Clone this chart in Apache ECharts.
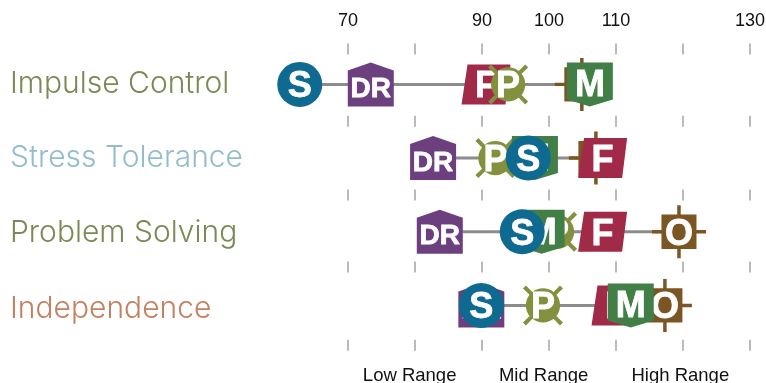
<!DOCTYPE html>
<html>
<head>
<meta charset="utf-8">
<style>html,body{margin:0;padding:0;background:#fff}#chart{width:766px;height:383px}</style>
<script src="https://cdn.jsdelivr.net/npm/echarts@6/dist/echarts.min.js"></script>
</head>
<body>
<div id="chart"></div>
<script>
// rows, top to bottom
var rowNames = ['Impulse Control', 'Stress Tolerance', 'Problem Solving', 'Independence'];
var rowColors = ['#7b8a55', '#93bdcc', '#7b8a55', '#c4815f'];
var rowLabelPos = [0, 1, 2.01, 3.05];

// score of each rater per row
var oValues = [104.9, 107.0, 119.4, 117.3];
var drValues = [73.4, 82.7, 83.7, 89.9];
var fValues = [90.6, 108.0, 108.0, 110.0];
var pValues = [93.9, 92.0, 101.2, 99.1];
var mValues = [106.1, 97.9, 98.9, 112.2];
var sValues = [62.8, 96.9, 96.0, 89.9];

var tickValues = [70, 80, 90, 100, 110, 120, 130];
var topLabels = [70, 90, 100, 110, 130];
var tickRows = [-0.48, 0.5, 1.5, 2.48, 3.54];
var rangeNames = ['Low Range', 'Mid Range', 'High Range'];
var rangeCenters = [79.2, 99.2, 119.6];

var chart = echarts.init(document.getElementById('chart'));

var housePath = 'path://M0 8L23 0L46 8L46 44L0 44Z';
var shieldPath = 'path://M0 0L46 0L46 37L23 44L0 37Z';
var slantPath = 'path://M6 0L49 0L44 40L0 40Z';
var crossPath = 'path://M25.250 0h3.500v9.500h15.750v15.750h9.500v3.500h-9.500v15.750h-15.750v9.500h-3.500v-9.500h-15.750v-15.750h-9.500v-3.500h9.500v-15.750h15.750Z';
var burstPath = 'path://M3 0L9.400 6.600A17 17 0 0 1 30.600 6.600L37 0L40 3L33.400 9.400A17 17 0 0 1 33.400 30.600L40 37L37 40L30.600 33.400A17 17 0 0 1 9.400 33.400L3 40L0 37L6.600 30.600A17 17 0 0 1 6.600 9.400L0 3Z';

function toPoints(values) {
    return values.map(function (v, i) { return [v, i]; });
}

function rater(name, values, symbol, size, color, z, fontSize, dy) {
    return {
        type: 'scatter',
        name: name,
        z: z,
        symbol: symbol,
        symbolSize: size,
        itemStyle: { color: color, opacity: 1 },
        label: {
            show: true,
            position: 'inside',
            offset: [0, dy],
            formatter: name,
            color: '#fff',
            textBorderColor: '#fff',
            textBorderWidth: 0.8,
            fontFamily: 'Liberation Sans',
            fontWeight: 'bold',
            fontSize: fontSize
        },
        data: toPoints(values)
    };
}

var series = [];

// gray line across each row, lowest to highest score
rowNames.forEach(function (name, i) {
    var vals = [oValues[i], drValues[i], fValues[i], pValues[i], mValues[i], sValues[i]];
    series.push({
        type: 'line',
        z: 2,
        symbol: 'none',
        silent: true,
        lineStyle: { color: '#8c8c8c', width: 3 },
        data: [[Math.min.apply(null, vals), i], [Math.max.apply(null, vals), i]]
    });
});

// short ticks between the rows
var tickData = [];
tickRows.forEach(function (r) {
    tickValues.forEach(function (t) { tickData.push([t, r]); });
});
series.push({
    type: 'scatter',
    z: 1,
    symbol: 'rect',
    symbolSize: [1, 11],
    itemStyle: { color: '#777', opacity: 1 },
    data: tickData
});

series.push(rater('O', oValues, crossPath, [54, 53], '#7b5522', 3, 36, 3));
series.push(rater('DR', drValues, housePath, [46, 44], '#6c3f7e', 4, 28, 5));
series.push(rater('F', fValues, slantPath, [49, 40], '#a02a47', 5, 36, 3));
series.push(rater('P', pValues, burstPath, [40, 40], '#83913f', 6, 36, 3));
series.push(rater('M', mValues, shieldPath, [46, 44], '#427f47', 7, 36, 2));
series.push(rater('S', sValues, 'circle', 45, '#0f6a92', 8, 36, 3));

var richRow = function (color) {
    return { color: color, fontFamily: 'Inter', fontWeight: 300, fontSize: 30 };
};

var option = {
    animation: false,
    grid: { left: 281, right: 16, top: 40.2, height: 316.8, outerBoundsMode: 'none' },
    xAxis: [{
        type: 'value',
        position: 'top',
        min: 60,
        max: 130,
        interval: 10,
        axisLine: { show: false },
        axisTick: { show: false },
        splitLine: { show: false },
        axisLabel: {
            customValues: topLabels,
            margin: 10,
            color: '#111',
            fontFamily: 'Liberation Sans',
            fontSize: 18
        }
    }, {
        type: 'value',
        position: 'bottom',
        min: 60,
        max: 130,
        interval: 10,
        axisLine: { show: false },
        axisTick: { show: false },
        splitLine: { show: false },
        axisLabel: {
            customValues: rangeCenters,
            formatter: function (v) { return rangeNames[rangeCenters.indexOf(v)]; },
            margin: 9,
            color: '#111',
            fontFamily: 'Liberation Sans',
            fontSize: 18.5
        }
    }],
    yAxis: {
        type: 'value',
        inverse: true,
        min: -0.6,
        max: 3.7,
        axisLine: { show: false },
        axisTick: { show: false },
        splitLine: { show: false },
        axisLabel: {
            customValues: rowLabelPos,
            align: 'left',
            margin: 271,
            fontFamily: 'Inter',
            fontWeight: 300,
            fontSize: 30,
            formatter: function (v) {
                var i = rowLabelPos.indexOf(v);
                return '{r' + i + '|' + rowNames[i] + '}';
            },
            rich: {
                r0: richRow(rowColors[0]),
                r1: richRow(rowColors[1]),
                r2: richRow(rowColors[2]),
                r3: richRow(rowColors[3])
            }
        }
    },
    series: series
};
chart.setOption(option);
</script>
</body>
</html>
